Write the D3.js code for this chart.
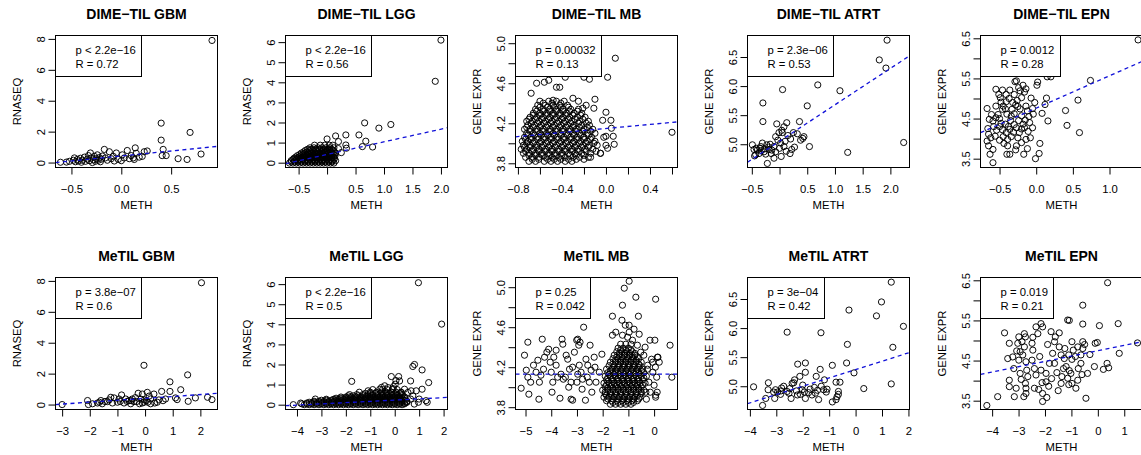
<!DOCTYPE html>
<html>
<head>
<meta charset="utf-8">
<script src="https://cdnjs.cloudflare.com/ajax/libs/d3/7.8.5/d3.min.js"></script>
<style>
  body { margin: 0; background: #fff; }
  svg { display: block; }
</style>
</head>
<body>
<div id="chart"></div>
<script>
// panel texts
var panelTitles = ["DIME−TIL GBM", "DIME−TIL LGG", "DIME−TIL MB", "DIME−TIL ATRT", "DIME−TIL EPN",
                   "MeTIL GBM", "MeTIL LGG", "MeTIL MB", "MeTIL ATRT", "MeTIL EPN"];
var yTitles = ["RNASEQ", "RNASEQ", "GENE EXPR", "GENE EXPR", "GENE EXPR",
               "RNASEQ", "RNASEQ", "GENE EXPR", "GENE EXPR", "GENE EXPR"];
var pTexts = ["p < 2.2e−16", "p < 2.2e−16", "p = 0.00032", "p = 2.3e−06", "p = 0.0012",
              "p = 3.8e−07", "p < 2.2e−16", "p = 0.25", "p = 3e−04", "p = 0.019"];
var rTexts = ["R = 0.72", "R = 0.56", "R = 0.13", "R = 0.53", "R = 0.28",
              "R = 0.6", "R = 0.5", "R = 0.042", "R = 0.42", "R = 0.21"];

// axis limits
var xLims = [[-0.66, 0.965], [-0.73, 2.115], [-0.822, 0.65], [-0.578, 2.345], [-0.76, 1.45],
             [-3.24, 2.62], [-4.47, 2.16], [-5.39, 0.91], [-4.09, 2.04], [-4.44, 1.69]];
var yLims = [[-0.32, 8.22], [-0.24, 6.33], [3.758, 5.077], [4.6, 6.87], [3.28, 6.57],
             [-0.32, 8.22], [-0.24, 6.33], [3.777, 5.097], [4.6, 6.87], [3.28, 6.57]];

// ticks
var xTicks = [[-0.5, 0, 0.5], [-0.5, 0, 0.5, 1, 1.5, 2], [-0.8, -0.6, -0.4, -0.2, 0, 0.2, 0.4, 0.6],
              [-0.5, 0, 0.5, 1, 1.5, 2], [-0.5, 0, 0.5, 1],
              [-3, -2, -1, 0, 1, 2], [-4, -3, -2, -1, 0, 1, 2], [-5, -4, -3, -2, -1, 0],
              [-4, -3, -2, -1, 0, 1, 2], [-4, -3, -2, -1, 0, 1]];
var xTickLabels = [["−0.5", "0.0", "0.5"], ["−0.5", "", "0.5", "1.0", "1.5", "2.0"],
                   ["−0.8", "", "−0.4", "", "0.0", "", "0.4", ""],
                   ["−0.5", "", "0.5", "1.0", "1.5", "2.0"], ["−0.5", "0.0", "0.5", "1.0"],
                   ["−3", "−2", "−1", "0", "1", "2"], ["−4", "−3", "−2", "−1", "0", "1", "2"],
                   ["−5", "−4", "−3", "−2", "−1", "0"], ["−4", "−3", "−2", "−1", "0", "1", "2"],
                   ["−4", "−3", "−2", "−1", "0", "1"]];
var yTicks = [[0, 2, 4, 6, 8], [0, 1, 2, 3, 4, 5, 6], [3.8, 4.0, 4.2, 4.4, 4.6, 4.8, 5.0],
              [5.0, 5.5, 6.0, 6.5], [3.5, 4.0, 4.5, 5.0, 5.5, 6.0, 6.5],
              [0, 2, 4, 6, 8], [0, 1, 2, 3, 4, 5, 6], [3.8, 4.0, 4.2, 4.4, 4.6, 4.8, 5.0],
              [5.0, 5.5, 6.0, 6.5], [3.5, 4.0, 4.5, 5.0, 5.5, 6.0, 6.5]];
var yTickLabels = [["0", "2", "4", "6", "8"], ["0", "1", "2", "3", "4", "5", "6"],
                   ["3.8", "", "4.2", "", "4.6", "", "5.0"], ["5.0", "5.5", "6.0", "6.5"],
                   ["3.5", "", "4.5", "", "5.5", "", "6.5"],
                   ["0", "2", "4", "6", "8"], ["0", "1", "2", "3", "4", "5", "6"],
                   ["3.8", "", "4.2", "", "4.6", "", "5.0"], ["5.0", "5.5", "6.0", "6.5"],
                   ["3.5", "", "4.5", "", "5.5", "", "6.5"]];

// fitted lines (intercept, slope)
var fitIntercepts = [0.425, 0.41, 4.148, 5.052, 4.76, 0.40, 0.227, 4.13, 5.287, 4.745];
var fitSlopes = [0.644, 0.628, 0.101, 0.626, 0.806, 0.123, 0.062, 0.0, 0.1436, 0.133];

// ---- points: [METH, expression] ----
var dimeGbm = [[0.91,7.9],[0.4,2.55],[0.69,1.95],[0.4,1.45],[0.42,0.85],[0.41,0.45],[0.45,0.45],[0.57,0.25],[0.66,0.2],[0.8,0.55],
  [-0.61,0.02],[-0.55,0.03],[-0.52,0.08],[-0.48,0.15],[-0.47,0.3],[-0.46,0.05],[-0.44,0.2],[-0.43,0.1],[-0.41,0.28],[-0.4,0.02],
  [-0.39,0.15],[-0.37,0.35],[-0.36,0.08],[-0.34,0.22],[-0.33,0.45],[-0.32,0.12],[-0.31,0.62],[-0.3,0.3],[-0.29,0.0],[-0.28,0.18],
  [-0.27,0.4],[-0.26,0.08],[-0.25,0.25],[-0.24,0.5],[-0.23,0.15],[-0.22,0.32],[-0.21,0.05],[-0.2,0.22],[-0.19,0.42],[-0.17,0.85],
  [-0.16,0.3],[-0.14,0.15],[-0.12,0.7],[-0.1,0.25],[-0.08,0.4],[-0.07,0.1],[-0.05,0.62],[-0.03,0.2],[0.0,0.12],[0.01,0.5],
  [0.03,0.3],[0.06,0.78],[0.08,0.25],[0.1,0.45],[0.12,0.3],[0.13,0.2],[0.14,0.95],[0.15,0.6],[0.18,0.35],[0.21,0.4],
  [0.23,0.7],[0.26,0.75]];

var dimeLggRows = [
  [-0.02, [-0.66,-0.6,-0.54,-0.48,-0.42,-0.36,-0.3,-0.24,-0.18,-0.12,-0.06,0.0,0.06,0.12]],
  [0.04, [-0.63,-0.57,-0.51,-0.45,-0.39,-0.33,-0.27,-0.21,-0.15,-0.09,-0.03,0.03,0.09]],
  [0.1, [-0.63,-0.57,-0.51,-0.45,-0.39,-0.33,-0.27,-0.21,-0.15,-0.09,-0.03,0.03,0.09,0.15]],
  [0.16, [-0.6,-0.54,-0.48,-0.42,-0.36,-0.3,-0.24,-0.18,-0.12,-0.06,0.0,0.06,0.12]],
  [0.22, [-0.58,-0.52,-0.46,-0.4,-0.34,-0.28,-0.22,-0.16,-0.1,-0.04,0.02,0.08,0.13]],
  [0.28, [-0.55,-0.49,-0.43,-0.37,-0.31,-0.25,-0.19,-0.13,-0.07,-0.01,0.05,0.11]],
  [0.35, [-0.52,-0.46,-0.4,-0.34,-0.28,-0.22,-0.16,-0.1,-0.04,0.02,0.08,0.14]],
  [0.41, [-0.48,-0.42,-0.36,-0.3,-0.24,-0.18,-0.12,-0.06,0.0,0.06,0.12]],
  [0.48, [-0.45,-0.39,-0.33,-0.27,-0.21,-0.15,-0.09,-0.03,0.03,0.09,0.15]],
  [0.54, [-0.41,-0.35,-0.29,-0.23,-0.17,-0.11,-0.05,0.01,0.07,0.13]],
  [0.61, [-0.38,-0.31,-0.25,-0.19,-0.13,-0.07,-0.01,0.05,0.11]],
  [0.67, [-0.34,-0.27,-0.2,-0.13,-0.06,0.01,0.08]],
  [0.74, [-0.3,-0.23,-0.16,-0.09,-0.02,0.05,0.12]],
  [0.87, [-0.22,-0.12,-0.04,0.04,0.1]]];
var dimeLggOther = [[0.0,1.18],[0.15,1.33],[0.2,1.05],[0.33,1.38],[0.33,0.88],[0.34,0.72],[0.56,1.38],[0.62,0.8],
  [0.66,1.98],[0.68,1.07],[0.8,0.78],[0.91,1.72],[1.12,1.9],[1.9,4.05],[2.0,6.1],[0.2,0.7],[0.25,0.5]];

var dimeMbRows = [
  [3.82, [-0.7,-0.64,-0.56,-0.5,-0.44,-0.37,-0.31]],
  [3.84, [-0.67,-0.61,-0.53,-0.47,-0.41,-0.34,-0.27]],
  [3.86, [-0.73,-0.67,-0.61,-0.55,-0.49,-0.43,-0.37,-0.3,-0.24,-0.16]],
  [3.88, [-0.7,-0.64,-0.58,-0.52,-0.46,-0.4,-0.33,-0.27,-0.2]],
  [3.9, [-0.75,-0.7,-0.64,-0.58,-0.52,-0.46,-0.4,-0.34,-0.28,-0.22,-0.14,-0.05]],
  [3.92, [-0.73,-0.67,-0.61,-0.55,-0.49,-0.43,-0.37,-0.31,-0.25,-0.18,-0.09]],
  [3.94, [-0.77,-0.72,-0.66,-0.61,-0.55,-0.49,-0.43,-0.37,-0.31,-0.25,-0.19,-0.12]],
  [3.96, [-0.74,-0.69,-0.63,-0.58,-0.52,-0.46,-0.4,-0.34,-0.28,-0.22,-0.16]],
  [3.98, [-0.75,-0.69,-0.63,-0.57,-0.51,-0.45,-0.39,-0.33,-0.27,-0.21,-0.15,-0.08,0.0]],
  [4.0, [-0.72,-0.66,-0.6,-0.54,-0.48,-0.42,-0.36,-0.3,-0.24,-0.18,-0.11]],
  [4.02, [-0.76,-0.71,-0.65,-0.59,-0.53,-0.47,-0.41,-0.35,-0.29,-0.23,-0.17,-0.1]],
  [4.04, [-0.73,-0.68,-0.62,-0.56,-0.5,-0.44,-0.38,-0.32,-0.26,-0.2,-0.14]],
  [4.06, [-0.74,-0.68,-0.62,-0.56,-0.5,-0.44,-0.38,-0.32,-0.26,-0.2,-0.13,-0.02]],
  [4.08, [-0.71,-0.65,-0.59,-0.53,-0.47,-0.41,-0.35,-0.29,-0.23,-0.16]],
  [4.1, [-0.72,-0.66,-0.6,-0.54,-0.48,-0.42,-0.36,-0.3,-0.24,-0.17,-0.1]],
  [4.12, [-0.69,-0.63,-0.57,-0.51,-0.45,-0.39,-0.33,-0.27,-0.21,-0.14]],
  [4.14, [-0.74,-0.69,-0.63,-0.57,-0.51,-0.45,-0.39,-0.33,-0.27,-0.2,-0.12]],
  [4.16, [-0.72,-0.66,-0.6,-0.54,-0.48,-0.42,-0.36,-0.3,-0.24,-0.17]],
  [4.18, [-0.71,-0.65,-0.59,-0.53,-0.47,-0.41,-0.35,-0.29,-0.22,-0.15]],
  [4.2, [-0.68,-0.62,-0.56,-0.5,-0.44,-0.38,-0.32,-0.25,-0.18]],
  [4.22, [-0.72,-0.67,-0.61,-0.55,-0.49,-0.43,-0.37,-0.31,-0.24,-0.16]],
  [4.24, [-0.7,-0.64,-0.58,-0.52,-0.46,-0.4,-0.34,-0.28,-0.21]],
  [4.26, [-0.69,-0.63,-0.57,-0.51,-0.45,-0.39,-0.33,-0.26,-0.19]],
  [4.28, [-0.66,-0.6,-0.54,-0.48,-0.42,-0.36,-0.3,-0.23]],
  [4.3, [-0.66,-0.6,-0.54,-0.48,-0.42,-0.36,-0.29,-0.22]],
  [4.32, [-0.63,-0.57,-0.51,-0.45,-0.39,-0.33,-0.26]],
  [4.34, [-0.64,-0.57,-0.51,-0.45,-0.39,-0.32,-0.25]],
  [4.36, [-0.6,-0.53,-0.47,-0.41,-0.34]],
  [4.38, [-0.62,-0.55,-0.48,-0.42,-0.35]],
  [4.4, [-0.57,-0.49,-0.41]],
  [4.42, [-0.6,-0.52,-0.45,-0.38]]];
var dimeMbOther = [[0.6,4.11],[0.085,4.85],[0.015,4.66],[-0.15,4.64],[-0.2,4.66],[-0.37,4.66],[-0.42,4.56],[-0.45,4.56],
  [-0.56,4.61],[-0.63,4.6],[-0.52,4.63],[-0.68,4.5],[-0.48,4.43],[-0.3,4.45],[-0.1,4.44],[-0.11,4.35],[0.0,4.31],
  [0.045,4.23],[-0.03,4.23],[0.05,4.15],[0.066,4.07],[0.0,4.07],[0.075,3.99],[0.015,3.95],[-0.05,3.9],[-0.14,3.86],
  [-0.2,3.84],[-0.18,4.38],[-0.21,4.35],[-0.25,4.42]];

var dimeAtrt = [[1.94,6.79],[1.8,6.45],[1.92,6.31],[2.24,5.03],[1.23,4.86],[1.09,5.92],[0.69,6.02],[0.5,5.66],[0.055,5.94],
  [-0.3,5.71],[-0.3,5.39],[0.54,4.96],[0.36,5.39],[-0.05,5.35],[0.13,5.37],[0.04,5.24],[0.44,5.13],[0.32,5.18],[0.38,5.07],
  [0.42,5.1],[0.2,5.09],[0.22,4.91],[0.19,4.84],[0.03,4.79],[0.08,4.96],[0.02,5.02],[-0.07,5.13],[-0.1,4.96],[-0.07,4.87],
  [-0.1,4.76],[-0.22,4.67],[-0.19,4.91],[-0.28,4.87],[-0.23,4.99],[-0.34,4.96],[-0.37,4.84],[-0.31,5.02],[-0.43,4.82],
  [-0.49,4.99],[-0.46,4.91],[-0.4,4.9],[-0.35,4.93],[-0.25,4.83],[-0.15,4.84],[-0.14,4.9],[0.0,4.93],[-0.03,5.07],
  [0.05,5.2],[0.08,5.3],[-0.01,5.2],[0.12,4.88],[0.1,5.05],[-0.42,4.93],[-0.2,4.95],[-0.27,4.92],[-0.33,4.89],
  [0.27,4.95],[0.15,5.15],[0.25,5.2],[-0.45,4.8],[-0.17,5.0]];

var dimeEpn = [[1.39,6.46],[0.74,5.45],[0.57,4.96],[0.4,4.7],[0.42,4.33],[0.59,4.15],[0.16,4.44],[0.14,5.01],[0.2,5.54],
  [0.15,5.54],[0.02,5.41],[0.01,5.33],[-0.16,5.16],[-0.22,5.19],[-0.07,5.01],[-0.04,4.61],[-0.27,5.44],[-0.29,5.42],
  [-0.55,5.23],[-0.46,5.21],[-0.36,5.21],[-0.51,5.1],[-0.49,5.02],[-0.67,4.75],[-0.55,4.81],[-0.48,4.91],[-0.45,4.81],
  [-0.66,4.25],[-0.65,4.11],[-0.67,3.94],[-0.65,3.82],[-0.59,3.73],[-0.63,3.61],[-0.59,3.4],[-0.4,3.61],[-0.36,3.61],
  [-0.39,3.82],[-0.17,3.61],[-0.01,3.5],[0.04,3.63],[0.05,3.88],[-0.2,3.9],[-0.25,4.02],[-0.14,3.98],[-0.59,4.44],
  [-0.55,4.52],[-0.5,4.5],[-0.46,4.73],[-0.42,4.74],[-0.4,4.61],[-0.34,4.56],[-0.32,4.9],[-0.28,4.84],[-0.25,4.8],
  [-0.22,4.74],[-0.14,4.81],[-0.12,4.69],[-0.1,4.55],[-0.09,4.4],[-0.18,4.36],[-0.2,4.24],[-0.27,4.27],[-0.36,4.23],
  [-0.41,4.15],[-0.45,4.05],[-0.34,4.05],[-0.39,3.98],[-0.42,4.36],[-0.48,4.38],[-0.46,4.22],[-0.54,4.21],[-0.56,4.06],
  [-0.5,3.96],[-0.27,3.82],[-0.28,3.72],[-0.23,4.15],[-0.16,4.27],[-0.11,4.18],[-0.52,4.6],[-0.61,4.6],[-0.64,4.48],
  [-0.24,5.27],[-0.18,5.33],[-0.3,5.1],[-0.14,5.24],[-0.41,5.1],[-0.33,4.73],[-0.37,5.0],[-0.41,4.92],[-0.3,4.62],
  [-0.2,4.57],[-0.15,4.46],[-0.05,4.27],[-0.08,4.02],[-0.35,4.45],[-0.3,4.35],[-0.12,3.75],[-0.44,3.88],[-0.5,4.3],
  [-0.58,4.3],[0.08,4.63],[0.12,4.85],[-0.02,4.9],[-0.05,4.75],[-0.62,4.02],[-0.31,4.16],[-0.24,4.45],[-0.38,4.3],
  [-0.2,5.02],[-0.26,4.95]];

var metilGbm = [[-3.0,0.0],[-2.05,0.0],[-2.08,0.26],[-1.9,0.05],[-1.72,0.1],[-1.6,0.26],[-1.55,0.05],[-1.36,0.19],[-1.24,0.47],
  [-1.18,0.1],[-1.12,0.43],[-1.0,0.15],[-0.94,0.36],[-0.85,0.62],[-0.7,0.36],[-0.76,0.1],[-0.58,0.26],[-0.52,0.05],
  [-0.46,0.36],[-0.4,0.19],[-0.25,0.73],[-0.1,0.68],[-0.04,2.54],[-0.04,0.15],[-0.02,0.3],[0.08,0.79],[0.1,0.15],
  [0.2,0.36],[0.32,0.68],[0.44,0.15],[0.5,0.3],[0.6,0.85],[0.74,0.36],[0.9,0.85],[0.9,1.47],[1.1,0.43],[1.16,0.32],
  [1.29,0.96],[1.54,1.92],[1.56,0.21],[1.82,0.43],[2.04,7.88],[2.26,0.47],[2.42,0.32],[-0.3,0.2],[-0.2,0.05],
  [-0.15,0.35],[0.2,0.05],[0.05,0.25],[-0.5,0.25],[-0.65,0.2],[-0.9,0.2],[-1.45,0.2],[-1.3,0.3],[-1.65,0.15],
  [-0.1,0.1],[0.35,0.1],[0.65,0.25],[-0.35,0.45],[0.15,0.55]];

var metilLggRows = [
  [0.0, [-4.15,-3.7,-3.5,-3.3,-3.1,-2.9,-2.7,-2.5,-2.3,-2.1,-1.9,-1.7,-1.5,-1.3,-1.1,-0.9,-0.7,-0.5,-0.3,-0.1,0.1,0.3]],
  [0.04, [-3.8,-3.6,-3.4,-3.2,-3.0,-2.8,-2.6,-2.4,-2.2,-2.0,-1.8,-1.6,-1.4,-1.2,-1.0,-0.8,-0.6,-0.4,-0.2,0.0,0.2,0.4]],
  [0.08, [-3.85,-3.6,-3.4,-3.2,-3.0,-2.8,-2.6,-2.4,-2.2,-2.0,-1.8,-1.6,-1.4,-1.2,-1.0,-0.8,-0.6,-0.4,-0.2,0.0,0.2,0.4]],
  [0.12, [-3.5,-3.3,-3.1,-2.9,-2.7,-2.5,-2.3,-2.1,-1.9,-1.7,-1.5,-1.3,-1.1,-0.9,-0.7,-0.5,-0.3,-0.1,0.1,0.3,0.5]],
  [0.17, [-3.3,-3.1,-2.9,-2.7,-2.5,-2.3,-2.1,-1.9,-1.7,-1.5,-1.3,-1.1,-0.9,-0.7,-0.5,-0.3,-0.1,0.1,0.3,0.5]],
  [0.22, [-3.0,-2.8,-2.6,-2.4,-2.2,-2.0,-1.8,-1.6,-1.4,-1.2,-1.0,-0.8,-0.6,-0.4,-0.2,0.0,0.2,0.4]],
  [0.27, [-2.8,-2.5,-2.3,-2.1,-1.9,-1.7,-1.5,-1.3,-1.1,-0.9,-0.7,-0.5,-0.3,-0.1,0.1,0.3]],
  [0.32, [-2.4,-2.2,-2.0,-1.8,-1.6,-1.4,-1.2,-1.0,-0.8,-0.6,-0.4,-0.2,0.0,0.2,0.4]],
  [0.38, [-2.2,-2.0,-1.8,-1.6,-1.4,-1.2,-1.0,-0.8,-0.6,-0.4,-0.2,0.0,0.2,0.4]],
  [0.44, [-1.9,-1.7,-1.5,-1.3,-1.1,-0.9,-0.7,-0.5,-0.3,-0.1,0.1,0.3]],
  [0.5, [-1.85,-1.55,-1.3,-1.1,-0.9,-0.7,-0.5,-0.3,-0.1,0.1,0.3]],
  [0.56, [-1.2,-1.0,-0.8,-0.6,-0.4,-0.2,0.0,0.2]],
  [0.62, [-1.45,-1.0,-0.75,-0.55,-0.35,-0.15,0.05,0.25]],
  [0.75, [-0.9,-0.5,-0.3,-0.1,0.1]]];
var metilLggOther = [[0.97,6.07],[1.92,4.01],[0.74,1.9],[0.81,2.0],[1.12,1.73],[1.39,1.1],[1.12,0.77],[0.65,1.18],[0.4,0.77],
  [0.2,1.18],[0.16,1.4],[-0.14,1.4],[0.02,1.02],[-1.76,1.16],[-0.27,0.85],[-0.61,0.77],[-1.09,0.69],[0.27,0.61],
  [0.67,0.69],[-0.05,0.9],[0.05,1.2],[-0.54,0.86],[-0.41,0.94],[-0.07,0.8],[0.54,0.61],[0.65,0.28],[0.74,0.44],
  [0.88,0.69],[0.97,0.12],[1.28,0.2],[1.33,0.12],[0.8,0.03],[1.0,0.28],[0.47,0.12],[-3.25,0.28]];

var metilMbRows = [
  [3.83, [-1.7,-1.5,-1.3,-1.1,-0.9]],
  [3.848, [-1.6,-1.4,-1.2,-1.0,-0.8]],
  [3.865, [-1.85,-1.65,-1.45,-1.25,-1.05,-0.85,-0.65]],
  [3.883, [-1.8,-1.6,-1.4,-1.2,-1.0,-0.8,-0.6]],
  [3.9, [-1.95,-1.75,-1.55,-1.35,-1.15,-0.95,-0.75,-0.55]],
  [3.918, [-1.85,-1.65,-1.45,-1.25,-1.05,-0.85,-0.65]],
  [3.935, [-1.9,-1.7,-1.5,-1.3,-1.1,-0.9,-0.7,-0.5]],
  [3.953, [-1.9,-1.7,-1.5,-1.3,-1.1,-0.9,-0.7,-0.5]],
  [3.97, [-2.0,-1.8,-1.6,-1.4,-1.2,-1.0,-0.8,-0.6,-0.4]],
  [3.988, [-1.8,-1.6,-1.4,-1.2,-1.0,-0.8,-0.6]],
  [4.005, [-1.9,-1.7,-1.5,-1.3,-1.1,-0.9,-0.7,-0.5]],
  [4.023, [-1.85,-1.65,-1.45,-1.25,-1.05,-0.85,-0.65,-0.45]],
  [4.04, [-1.95,-1.75,-1.55,-1.35,-1.15,-0.95,-0.75,-0.55,-0.35]],
  [4.058, [-1.8,-1.6,-1.4,-1.2,-1.0,-0.8,-0.6]],
  [4.075, [-1.85,-1.65,-1.45,-1.25,-1.05,-0.85,-0.65,-0.45]],
  [4.093, [-1.8,-1.6,-1.4,-1.2,-1.0,-0.8,-0.6,-0.4]],
  [4.11, [-1.9,-1.7,-1.5,-1.3,-1.1,-0.9,-0.7,-0.5,-0.3]],
  [4.128, [-1.75,-1.55,-1.35,-1.15,-0.95,-0.75,-0.55]],
  [4.145, [-1.8,-1.6,-1.4,-1.2,-1.0,-0.8,-0.6,-0.4]],
  [4.163, [-1.7,-1.5,-1.3,-1.1,-0.9,-0.7,-0.5]],
  [4.18, [-1.85,-1.65,-1.45,-1.25,-1.05,-0.85,-0.65,-0.45]],
  [4.198, [-1.6,-1.4,-1.2,-1.0,-0.8,-0.6]],
  [4.215, [-1.75,-1.55,-1.35,-1.15,-0.95,-0.75,-0.55]],
  [4.233, [-1.6,-1.4,-1.2,-1.0,-0.8,-0.6]],
  [4.25, [-1.7,-1.5,-1.3,-1.1,-0.9,-0.7,-0.5]],
  [4.268, [-1.5,-1.3,-1.1,-0.9,-0.7]],
  [4.285, [-1.6,-1.4,-1.2,-1.0,-0.8,-0.6]],
  [4.303, [-1.45,-1.25,-1.05,-0.85,-0.65]],
  [4.32, [-1.55,-1.35,-1.15,-0.95,-0.75]],
  [4.338, [-1.35,-1.15,-0.95,-0.75]],
  [4.355, [-1.45,-1.25,-1.05,-0.85]],
  [4.373, [-1.3,-1.1,-0.9]],
  [4.39, [-1.4,-1.2,-1.0]],
  [4.43, [-1.3,-1.1,-0.9]]];
var metilMbOther = [
  // left group
  [-5.17,3.99],[-5.04,4.32],[-4.91,4.45],[-4.97,4.17],[-4.91,4.1],[-4.87,3.93],[-4.69,4.22],[-4.59,4.15],[-4.52,4.27],
  [-4.46,4.05],[-4.48,3.88],[-4.35,4.48],[-4.26,4.3],[-4.3,4.18],[-4.17,4.35],[-4.1,4.38],[-4.04,4.25],[-4.0,4.15],
  [-3.94,4.05],[-3.97,3.95],[-3.81,4.37],[-3.81,4.22],[-3.75,4.1],[-3.66,3.89],[-3.62,4.13],[-3.53,4.08],[-3.58,4.48],
  [-3.55,4.43],[-3.42,4.32],[-3.36,4.28],[-3.29,4.18],[-3.23,4.05],[-3.32,4.0],[-3.17,4.2],[-3.1,4.35],[-3.23,3.88],
  [-3.17,3.87],[-3.01,4.47],[-2.97,4.48],[-2.93,4.42],[-2.88,4.45],[-2.74,4.6],[-2.91,4.22],[-2.84,4.15],[-2.97,4.13],
  [-2.78,4.08],[-2.8,3.98],[-2.67,3.87],[-2.65,4.28],[-2.58,4.22],[-2.49,4.42],[-2.45,4.17],[-2.52,4.05],[-2.42,3.95],
  [-2.33,4.3],[-2.26,4.05],[-2.13,4.15],[-2.03,4.33],[-4.8,4.05],[-4.4,4.12],[-3.9,4.3],[-3.45,4.1],[-3.0,4.05],
  [-2.6,4.1],[-2.3,4.2],
  // upper / right of main group
  [-0.97,5.06],[-1.16,4.99],[0.06,4.88],[-0.71,4.9],[-1.23,4.82],[-1.62,4.71],[-1.25,4.67],[-1.12,4.62],[-0.61,4.71],
  [-0.78,4.58],[-0.97,4.55],[-0.58,4.53],[0.03,4.47],[-0.16,4.47],[0.62,4.42],[0.69,4.1],[0.06,3.92],[0.06,3.9],
  [0.13,4.3],[-0.06,4.25],[-0.26,4.18],[-0.32,3.95],[-1.62,4.52],[-1.49,4.55],[-1.23,4.52],[-1.03,4.5],[-0.84,4.47],
  [-0.65,4.42],[-0.52,4.35],[-0.97,4.62],[-0.25,4.22],[-0.2,4.05],[-0.15,3.95],[-0.1,4.28],[-0.05,4.15],[0.0,4.02],
  [0.05,4.2],[0.1,4.1],[0.12,3.95],[-0.3,3.88],[0.2,4.25],[0.15,4.3],[-0.4,4.32],[-0.35,4.4]];

var metilAtrt = [[1.35,6.79],[0.98,6.45],[0.79,6.21],[1.81,6.03],[-0.25,6.31],[1.41,5.67],[1.35,5.04],[0.31,4.96],[-0.06,5.23],
  [-0.34,5.4],[-0.31,5.72],[-1.31,5.92],[-2.59,5.93],[-3.86,4.99],[-3.52,4.67],[-3.4,4.79],[-3.3,5.06],[-3.31,4.94],
  [-3.06,4.79],[-3.03,4.94],[-2.95,4.9],[-2.84,4.86],[-2.82,4.92],[-2.8,4.97],[-2.49,4.96],[-2.44,4.79],[-2.52,4.88],
  [-2.34,5.06],[-2.31,5.11],[-2.24,4.92],[-2.19,5.38],[-2.11,5.17],[-2.02,4.94],[-2.09,4.86],[-1.9,5.4],[-1.9,5.24],
  [-1.94,4.9],[-1.9,4.79],[-1.78,4.89],[-1.72,4.95],[-1.56,4.98],[-1.52,4.88],[-1.4,4.77],[-1.44,4.93],[-1.49,5.17],
  [-1.34,5.29],[-1.21,4.94],[-1.18,5.11],[-1.11,4.9],[-1.08,4.95],[-0.88,5.36],[-0.88,4.73],[-0.74,5.07],[-0.59,5.07],
  [-0.65,4.91],[-0.65,4.86],[-0.74,4.77],[-0.7,4.82],[-2.59,4.91],[-2.72,5.0],[-2.4,5.05],[-3.1,4.9],[-2.0,5.02],
  [-1.65,4.85],[-1.3,5.0],[-2.2,4.85]];

var metilEpn = [[0.37,6.44],[-0.57,5.88],[0.77,5.42],[0.06,5.37],[1.5,4.94],[0.81,4.68],[-4.2,3.38],[-3.79,3.6],[-0.45,3.56],
  [-1.14,5.51],[-1.08,5.5],[-0.57,5.41],[-0.1,4.93],[-0.02,4.95],[-0.57,4.97],[-0.5,4.9],[-0.98,4.97],[-0.76,4.84],
  [-0.57,4.8],[-0.64,4.64],[-0.93,4.76],[-1.1,4.64],[-1.27,4.55],[-1.2,4.35],[-0.98,4.53],[-0.64,4.43],[-0.74,4.3],
  [-0.39,4.18],[-0.13,4.35],[0.35,4.43],[0.41,4.32],[0.21,4.28],[-0.76,4.01],[-1.02,4.18],[-0.98,3.93],[-0.83,3.81],
  [-1.14,4.06],[-1.08,4.25],[-1.36,4.1],[-1.39,3.93],[-1.39,4.64],[-1.46,4.84],[-1.64,4.97],[-1.77,5.22],[-1.46,5.19],
  [-1.61,5.09],[-1.71,4.68],[-1.64,4.43],[-1.83,4.43],[-1.96,4.18],[-1.96,3.97],[-1.86,3.86],[-1.93,3.58],[-2.09,3.48],
  [-2.09,3.68],[-2.11,3.95],[-2.15,4.26],[-2.09,5.34],[-2.15,5.42],[-2.34,5.34],[-2.27,5.17],[-2.46,5.08],[-2.49,4.93],
  [-2.46,4.76],[-2.49,4.51],[-2.4,4.3],[-2.34,4.14],[-2.4,3.81],[-2.24,3.78],[-2.72,3.81],[-2.72,3.68],[-2.8,3.6],
  [-2.74,3.93],[-2.65,4.1],[-2.69,4.26],[-2.72,4.47],[-2.84,4.64],[-2.78,4.84],[-2.87,4.97],[-2.78,5.17],[-2.74,5.09],
  [-2.99,5.09],[-3.03,4.93],[-3.07,4.74],[-2.94,4.72],[-2.99,4.51],[-2.94,4.18],[-2.9,4.03],[-3.09,3.81],[-3.16,3.6],
  [-3.35,4.01],[-3.35,3.85],[-3.18,4.3],[-3.22,4.59],[-3.35,4.93],[-3.53,5.19],[-3.41,4.55],[-1.3,4.3],[-1.55,4.2],
  [-1.75,4.05],[-1.25,4.8],[-0.85,4.6],[-0.3,4.65],[-2.2,4.6],[-1.9,4.9],[-1.5,3.75],[-1.1,3.9],[-0.6,4.15]];

// flatten the dense clusters read as rows of points
function rowsToPoints(rows) {
  var pts = [];
  rows.forEach(function (r) {
    r[1].forEach(function (x) { pts.push([x, r[0]]); });
  });
  return pts;
}

var pointSets = [
  dimeGbm,
  rowsToPoints(dimeLggRows).concat(dimeLggOther),
  rowsToPoints(dimeMbRows).concat(dimeMbOther),
  dimeAtrt,
  dimeEpn,
  metilGbm,
  rowsToPoints(metilLggRows).concat(metilLggOther),
  rowsToPoints(metilMbRows).concat(metilMbOther),
  metilAtrt,
  metilEpn
];

// ---- layout ----
var width = 1141, height = 455;
var boxLefts = [55, 285, 515, 747, 980];
var rowTops = [35, 277];
var boxW = 162, boxH = 132;
var font = "'Liberation Sans', Arial, Helvetica, sans-serif";

var svg = d3.select("#chart").append("svg")
  .attr("width", width)
  .attr("height", height)
  .style("background", "#fff");

pointSets.forEach(function (pts, i) {
  var left = boxLefts[i % 5], top = rowTops[Math.floor(i / 5)];

  var x = d3.scaleLinear().domain(xLims[i]).range([0, boxW]);
  var y = d3.scaleLinear().domain(yLims[i]).range([boxH, 0]);

  var g = svg.append("g")
    .attr("transform", "translate(" + (left + 0.5) + "," + (top + 0.5) + ")");

  g.append("clipPath").attr("id", "clip" + i)
    .append("rect").attr("width", boxW).attr("height", boxH);

  var plot = g.append("g").attr("clip-path", "url(#clip" + i + ")");

  // points
  plot.selectAll("circle")
    .data(pts)
    .enter().append("circle")
    .attr("cx", function (d) { return x(d[0]); })
    .attr("cy", function (d) { return y(d[1]); })
    .attr("r", 3.1)
    .attr("fill", "none")
    .attr("stroke", "#000")
    .attr("stroke-width", 0.95);

  // fitted line across the whole plot
  var x0 = xLims[i][0], x1 = xLims[i][1];
  plot.append("line")
    .attr("x1", x(x0)).attr("y1", y(fitIntercepts[i] + fitSlopes[i] * x0))
    .attr("x2", x(x1)).attr("y2", y(fitIntercepts[i] + fitSlopes[i] * x1))
    .attr("stroke", "#1010d8")
    .attr("stroke-width", 1.3)
    .attr("stroke-dasharray", "4,3.5");

  // x axis
  var xAxis = g.append("g")
    .attr("transform", "translate(0," + boxH + ")")
    .call(d3.axisBottom(x).tickValues(xTicks[i]).tickSize(7).tickPadding(10)
      .tickFormat(function (d, j) { return xTickLabels[i][j]; }));
  xAxis.select(".domain").remove();
  xAxis.selectAll("text").attr("font-size", 11.3).attr("font-family", font).attr("fill", "#000");

  // y axis (labels rotated, R style)
  var yAxis = g.append("g")
    .call(d3.axisLeft(y).tickValues(yTicks[i]).tickSize(7)
      .tickFormat(function (d, j) { return yTickLabels[i][j]; }));
  yAxis.select(".domain").remove();
  yAxis.selectAll("text")
    .attr("x", null).attr("dy", null)
    .attr("transform", "translate(-11,0) rotate(-90)")
    .attr("text-anchor", "middle")
    .attr("font-size", 11.3).attr("font-family", font).attr("fill", "#000");

  // frame
  g.append("rect")
    .attr("width", boxW).attr("height", boxH)
    .attr("fill", "none").attr("stroke", "#000").attr("stroke-width", 1);

  // legend box with p and R
  var leg = g.append("g");
  var legRect = leg.append("rect").attr("fill", "#fff").attr("stroke", "#000").attr("stroke-width", 1);
  var t1 = leg.append("text").attr("x", 20).attr("y", 18)
    .attr("font-size", 11.3).attr("font-family", font).text(pTexts[i]);
  var t2 = leg.append("text").attr("x", 20).attr("y", 32)
    .attr("font-size", 11.3).attr("font-family", font).text(rTexts[i]);
  var tw = Math.max(t1.node().getComputedTextLength(), t2.node().getComputedTextLength());
  legRect.attr("width", Math.round(tw + 26)).attr("height", 41);

  // titles
  g.append("text")
    .attr("x", boxW / 2).attr("y", -17)
    .attr("text-anchor", "middle")
    .attr("font-size", 14).attr("font-weight", "bold").attr("font-family", font)
    .text(panelTitles[i]);
  g.append("text")
    .attr("x", boxW / 2).attr("y", boxH + 41.5)
    .attr("text-anchor", "middle")
    .attr("font-size", 11.3).attr("font-family", font)
    .text("METH");
  g.append("text")
    .attr("transform", "translate(-34.5," + (boxH / 2) + ") rotate(-90)")
    .attr("text-anchor", "middle")
    .attr("font-size", 11.3).attr("font-family", font)
    .text(yTitles[i]);
});
</script>
</body>
</html>
